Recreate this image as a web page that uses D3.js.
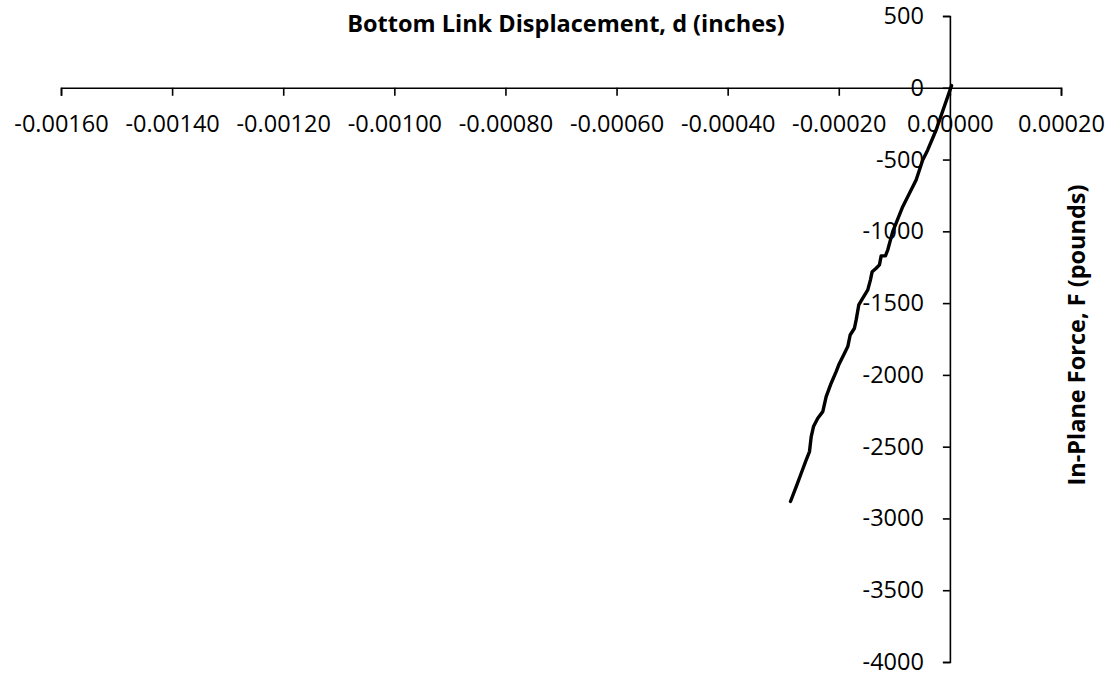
<!DOCTYPE html>
<html>
<head>
<meta charset="utf-8">
<script src="https://cdn.jsdelivr.net/npm/d3@7"></script>
<style>
  body { margin: 0; background: #fff; }
  svg { display: block; }
</style>
</head>
<body>
<svg id="chart" width="1115" height="674"></svg>
<script>
// displacement (inches)
const disp = [0.000003, -0.0000248, -0.0000399, -0.0000489, -0.0000608, -0.0000849, -0.0001029,
  -0.0001119, -0.000116, -0.0001237, -0.0001268, -0.0001327, -0.0001399, -0.000143,
  -0.0001478, -0.0001568, -0.000164, -0.0001687, -0.0001718, -0.0001795, -0.0001838,
  -0.0001897, -0.0002, -0.0002047, -0.0002137, -0.0002227, -0.0002288, -0.0002378,
  -0.0002455, -0.0002496, -0.0002527, -0.0002586, -0.0002676, -0.0002766, -0.0002869];
// in-plane force (pounds)
const force = [15, -294, -433, -503, -642, -828, -1002,
  -1130, -1171, -1171, -1234, -1257, -1281, -1338,
  -1408, -1466, -1513, -1617, -1675, -1722, -1803,
  -1849, -1930, -1977, -2058, -2151, -2256, -2302,
  -2360, -2430, -2534, -2592, -2685, -2778, -2882];

const xTicks = [-0.0016, -0.0014, -0.0012, -0.001, -0.0008, -0.0006, -0.0004, -0.0002, 0, 0.0002];
const yTicks = [500, 0, -500, -1000, -1500, -2000, -2500, -3000, -3500, -4000];

const xTitle = "Bottom Link Displacement, d (inches)";
const yTitle = "In-Plane Force, F (pounds)";

const svg = d3.select("#chart");
const font = "'Open Sans', sans-serif";

const x = d3.scaleLinear().domain([-0.0016, 0.0002]).range([61, 1061]);
const y = d3.scaleLinear().domain([-4000, 500]).range([662, 16]);

// x axis crosses at F = 0
const gx = svg.append("g")
  .attr("transform", `translate(0,${y(0)})`)
  .call(d3.axisBottom(x)
    .tickValues(xTicks)
    .tickFormat(d => d3.format(".5f")(d).replace("−", "-"))
    .tickSize(8).tickSizeOuter(8).tickPadding(20));

// y axis crosses at d = 0
const gy = svg.append("g")
  .attr("transform", `translate(${x(0)},0)`)
  .call(d3.axisLeft(y)
    .tickValues(yTicks)
    .tickFormat(d => String(d))
    .tickSize(7).tickSizeOuter(7).tickPadding(19));

[gx, gy].forEach(g => {
  g.selectAll("path, line").attr("stroke", "#000").attr("stroke-width", 1.6);
  g.selectAll("text")
    .attr("fill", "#000")
    .attr("font-family", font)
    .attr("font-size", 23.5);
});

// the curve
const pts = disp.map((d, i) => [d, force[i]]);
svg.append("path")
  .datum(pts)
  .attr("fill", "none")
  .attr("stroke", "#000")
  .attr("stroke-width", 3.4)
  .attr("stroke-linejoin", "round")
  .attr("stroke-linecap", "round")
  .attr("d", d3.line().x(d => x(d[0])).y(d => y(d[1])));

// titles
svg.append("text")
  .attr("x", 566)
  .attr("y", 32)
  .attr("text-anchor", "middle")
  .attr("font-family", font)
  .attr("font-weight", "bold")
  .attr("font-size", 23.5)
  .text(xTitle);

svg.append("text")
  .attr("transform", "translate(1085,335) rotate(-90)")
  .attr("text-anchor", "middle")
  .attr("font-family", font)
  .attr("font-weight", "bold")
  .attr("font-size", 23.5)
  .text(yTitle);
</script>
</body>
</html>
